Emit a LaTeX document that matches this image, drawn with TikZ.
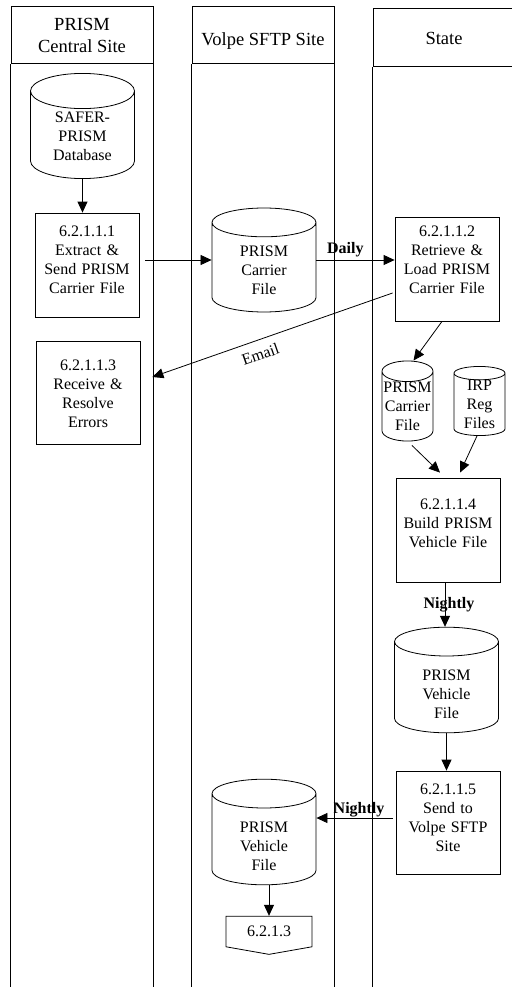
\documentclass[tikz,border=0pt]{standalone}
\usepackage{fontspec}
\setmainfont{Liberation Serif}
\usetikzlibrary{arrows.meta,shapes.geometric,shapes.symbols,positioning}

\begin{document}
\begin{tikzpicture}[
    x = 1pt,
    y = -1pt,
    font = \fontsize{16}{19}\selectfont,
    line width = 0.8pt,
    lanehead/.style = {draw, rectangle, line width=1pt, minimum width=142pt,
      minimum height=57pt, align=center, font=\fontsize{18.5}{22}\selectfont},
    lane/.style = {line width=1pt},
    procbox/.style = {draw, rectangle, text width=96pt, align=center,
      inner xsep=4pt, inner ysep=4pt, minimum width=104pt,
      text height=19.5pt, text depth=76.5pt},
    dbase/.style = {draw, cylinder, shape border rotate=90, aspect=0.6,
      minimum width=104pt, minimum height=104pt, align=center, inner sep=0pt,
      anchor=shape center},
    dbsmall/.style = {dbase, aspect=0.43, minimum width=51pt, minimum height=64pt},
    offpage/.style = {draw, signal, signal to=south, signal from=nowhere,
      signal pointer angle=160, minimum width=86pt, minimum height=35pt},
    flow/.style = {-{Triangle[length=11pt, width=10pt]}},
    tag/.style = {font=\fontsize{16}{19}\selectfont\bfseries, inner sep=1pt}]
    \useasboundingbox (0,0) rectangle (511,987);

    % LANES
    \coordinate (bot) at (0,990);
    % lane PRISM Central Site
    \node[lanehead] (central) at (82,35.5) {PRISM\\Central Site};
    % lane Volpe SFTP Site
    \node[lanehead, text height=24.6pt, text depth=4pt] (volpe) at (263,35.5) {Volpe SFTP Site};
    % lane State
    \node[lanehead, minimum height=58pt] (state) at (444,38) {State};
    \draw[lane] (central.south west) -- (central.south west |- bot);
    \draw[lane] (central.south east) -- (central.south east |- bot);
    \draw[lane] (volpe.south west) -- (volpe.south west |- bot);
    \draw[lane] (volpe.south east) -- (volpe.south east |- bot);
    \draw[lane] (state.south west) -- (state.south west |- bot);
    \draw[lane] (state.south east) -- (state.south east |- bot);

    % NODES
    % database SAFER-PRISM
    \node[dbase, text height=52pt, text depth=-3pt] (safer) at (82.5,126) {SAFER-\\PRISM\\Database};
    % process 6.2.1.1.1
    \node[procbox] (extract) at (87,265) {6.2.1.1.1\\Extract \&\\Send PRISM\\Carrier File};
    % carrier file at Volpe
    \node[dbase, text height=54.5pt, text depth=-5.5pt] (carrier) at (264,260) {PRISM\\Carrier\\File};
    % process 6.2.1.1.2
    \node[procbox, text height=15.8pt, text depth=80.2pt] (retrieve) at (447,269) {6.2.1.1.2\\Retrieve \&\\Load PRISM\\Carrier File};
    % process 6.2.1.1.3
    \node[procbox, text height=25.5pt, text depth=69.5pt] (resolve) at (88,392.5) {6.2.1.1.3\\Receive \&\\Resolve\\Errors};
    % carrier file at State
    \node[dbsmall] (carrierst) at (407.5,401) {PRISM\\Carrier\\File};
    % IRP registration files
    \node[dbsmall] (irp) at (479.5,401) {IRP\\Reg\\Files};
    % process 6.2.1.1.4
    \node[procbox, text height=27.5pt, text depth=68.5pt] (build) at (448,530) {6.2.1.1.4\\Build PRISM\\Vehicle File};
    % vehicle file at State
    \node[dbase, text height=62pt, text depth=-31pt] (vehiclest) at (446.5,680) {PRISM\\Vehicle\\File};
    % process 6.2.1.1.5
    \node[procbox, text depth=75.5pt] (send) at (448,822.5) {6.2.1.1.5\\Send to\\Volpe SFTP\\Site};
    % vehicle file at Volpe
    \node[dbase, text height=62pt, text depth=-31pt] (vehicle) at (264,832) {PRISM\\Vehicle\\File};
    % off-page connector
    \node[offpage] (next) at (269,931.5) {6.2.1.3};

    % ARROWS
    \draw[flow] (safer.south) -- (safer.south |- extract.north);
    \draw[flow] ([xshift=6pt]extract.east |- carrier.shape center) -- (carrier.shape center -| carrier.west);
    \draw[flow] (carrier.shape center -| carrier.east) -- (carrier.shape center -| retrieve.west)
      node[tag, pos=0.37, above=2pt] {Daily};
    \draw[flow] ([xshift=-2pt, yshift=-24pt]retrieve.west) -- ([xshift=12pt, yshift=15.5pt]resolve.east)
      node[pos=0.57, sloped, below=5pt] {Email};
    \draw[flow] ([xshift=-5pt]retrieve.south) -- ([xshift=6pt]carrierst.north);
    \draw[flow] ([xshift=4.5pt, yshift=-4pt]carrierst.south) -- ([xshift=-8pt, yshift=5pt]build.north);
    \draw[flow] ([xshift=-2.5pt]irp.south) -- ([xshift=12pt, yshift=5pt]build.north);
    \draw[flow] ([xshift=-3pt]build.south) -- ([xshift=-3pt]build.south |- vehiclest.north)
      node[tag, midway, xshift=4pt] {Nightly};
    \draw[flow] (vehiclest.south) -- (vehiclest.south |- send.north);
    \draw[flow] ([xshift=-3pt, yshift=4.5pt]send.west) -- ([yshift=4.5pt]send.west -| vehicle.east)
      node[tag, pos=0.44, above=0pt] {Nightly};
    \draw[flow] (next.north |- vehicle.south) -- (next.north);
  \end{tikzpicture}
\end{document}
